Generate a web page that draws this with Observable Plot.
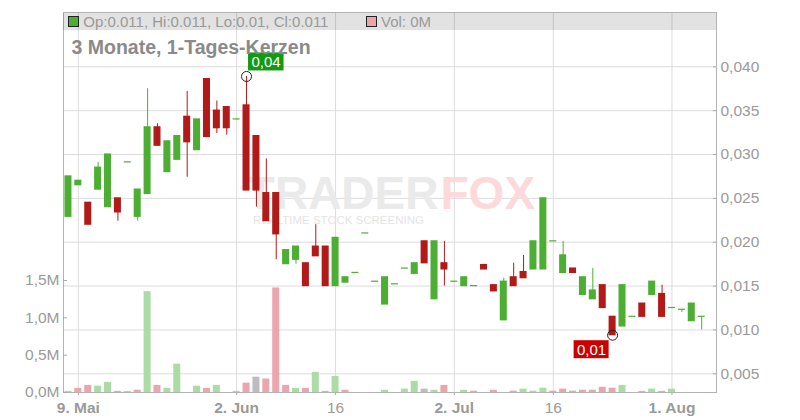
<!DOCTYPE html>
<html>
<head>
<meta charset="utf-8">
<script src="https://cdn.jsdelivr.net/npm/d3@7"></script>
<script src="https://cdn.jsdelivr.net/npm/@observablehq/plot@0.6"></script>
<style>
  html, body { margin: 0; padding: 0; background: #fff; }
  #wrap { position: relative; width: 800px; height: 420px; overflow: hidden; font-family: "Liberation Sans", Arial, sans-serif; }
  #wrap svg { position: absolute; left: 0; top: 0; }
  .band { position: absolute; left: 63px; top: 12.5px; width: 653px; height: 17.5px; background: rgba(0,0,0,0.115); }
  .sq { position: absolute; top: 16px; width: 9px; height: 9px; border: 1px solid #222; }
  .lg { position: absolute; top: 14px; font-size: 15px; line-height: 15px; color: #999; white-space: nowrap; }
  .title { position: absolute; left: 71.5px; top: 37.5px; font-size: 19.5px; line-height: 19.5px; font-weight: bold; color: #8a8a8a; white-space: nowrap; }
</style>
</head>
<body>
<div id="wrap"></div>
<script>
// ---------- data ----------
const days = [
  "2025-05-08","2025-05-09","2025-05-12","2025-05-13","2025-05-14","2025-05-15","2025-05-16",
  "2025-05-19","2025-05-20","2025-05-21","2025-05-22","2025-05-23","2025-05-26","2025-05-27",
  "2025-05-28","2025-05-29","2025-05-30","2025-06-02","2025-06-03","2025-06-04","2025-06-05",
  "2025-06-06","2025-06-09","2025-06-10","2025-06-11","2025-06-12","2025-06-13","2025-06-16",
  "2025-06-17","2025-06-18","2025-06-19","2025-06-20","2025-06-23","2025-06-24","2025-06-25",
  "2025-06-26","2025-06-27","2025-06-30","2025-07-01","2025-07-02","2025-07-03","2025-07-04",
  "2025-07-07","2025-07-08","2025-07-09","2025-07-10","2025-07-11","2025-07-14","2025-07-15",
  "2025-07-16","2025-07-17","2025-07-18","2025-07-21","2025-07-22","2025-07-23","2025-07-24",
  "2025-07-25","2025-07-28","2025-07-29","2025-07-30","2025-07-31","2025-08-01","2025-08-04",
  "2025-08-05","2025-08-06"
];
const open = [
  .0229,.0265,.0245,.0260,.0240,.0250,.0291,.0229,.0255,.0331,.0280,.0294,.0343,.0305,
  .0386,.0350,.0354,.0340,.0356,.0321,.0256,.0256,.0175,.0180,.0176,.0195,.0195,.0150,
  .0154,.0165,.0210,.0155,.0129,.0152,.0170,.0164,.0201,.0135,.0176,.0155,.0150,.0150,
  .0174,.0151,.0111,.0160,.0166,.0169,.0169,.0201,.0165,.0170,.0140,.0135,.0151,.0115,
  .0104,.0115,.0130,.0140,.0141,.0125,.0123,.0110,.0115
];
const high = [
  .0275,.0270,.0245,.0291,.0300,.0250,.0291,.0260,.0375,.0335,.0315,.0321,.0372,.0340,
  .0386,.0361,.0354,.0340,.0389,.0321,.0295,.0256,.0191,.0195,.0176,.0220,.0195,.0205,
  .0160,.0165,.0210,.0155,.0160,.0152,.0170,.0176,.0201,.0201,.0201,.0155,.0160,.0150,
  .0174,.0151,.0159,.0176,.0185,.0201,.0250,.0201,.0201,.0170,.0160,.0170,.0151,.0115,
  .0151,.0115,.0130,.0155,.0151,.0125,.0123,.0130,.0115
];
const low = [
  .0229,.0265,.0220,.0260,.0240,.0224,.0291,.0224,.0255,.0310,.0280,.0294,.0274,.0305,
  .0320,.0324,.0322,.0340,.0259,.0240,.0224,.0180,.0175,.0175,.0150,.0184,.0150,.0150,
  .0154,.0165,.0210,.0155,.0129,.0152,.0170,.0164,.0176,.0135,.0150,.0155,.0150,.0150,
  .0169,.0144,.0111,.0150,.0159,.0169,.0169,.0201,.0165,.0165,.0140,.0135,.0125,.0094,
  .0104,.0115,.0115,.0140,.0115,.0125,.0120,.0110,.0100
];
const close = [
  .0275,.0270,.0220,.0285,.0300,.0234,.0291,.0260,.0331,.0310,.0315,.0321,.0314,.0340,
  .0320,.0330,.0330,.0340,.0259,.0259,.0224,.0209,.0191,.0195,.0150,.0184,.0150,.0205,
  .0160,.0165,.0210,.0155,.0160,.0152,.0170,.0176,.0176,.0201,.0169,.0155,.0160,.0150,
  .0169,.0144,.0155,.0150,.0159,.0201,.0250,.0201,.0185,.0165,.0160,.0145,.0125,.0094,
  .0151,.0115,.0115,.0155,.0115,.0125,.0123,.0130,.0115
];
const volumeM = [
  0.015,0.055,0.095,0.085,0.135,0.015,0.015,0.03,1.35,0.095,
  0.055,0.38,0,0.085,0.055,0.095,0,0.015,0.125,0.205,
  0.18,1.40,0.095,0.055,0.055,0.27,0.015,0.215,0.03,0,
  0,0,0.03,0,0.045,0.15,0.045,0.03,0.095,0,
  0.03,0.018,0,0.03,0,0.018,0.045,0.018,0.058,0.018,
  0.045,0.018,0.03,0.03,0.07,0.058,0.095,0,0.015,0.045,
  0.015,0.045,0,0,0
];
const tickDays = ["2025-05-09","2025-06-02","2025-06-16","2025-07-02","2025-07-16","2025-08-01"];
const tickLabels = ["9. Mai","2. Jun","16","2. Jul","16","1. Aug"];
const priceTicks = [0.005,0.010,0.015,0.020,0.025,0.030,0.035,0.040];
const volumeTicks = [0,0.5,1.0,1.5];
const titleText = "3 Monate, 1-Tages-Kerzen";
const legendText = "Op:0.011, Hi:0.011, Lo:0.01, Cl:0.011";
const volLegendText = "Vol: 0M";

// ---------- styling ----------
const GREEN = "#4cae33", RED = "#b21a1a";
const VGREEN = "#abdca6", VRED = "#eda5ad", VGRAY = "#bdbdbd";
const GRID = "#dcdcdc";
const FONT = "'Liberation Sans', Arial, sans-serif";
const W = 800, H = 420, ML = 63, MR = 84, MT = 12, MB = 28;
const HALF = 0.355;

const candles = days.map((d, i) => ({
  i, day: d, open: open[i], high: high[i], low: low[i], close: close[i], vol: volumeM[i],
  up: close[i] >= open[i],
  vdir: i === 0 ? (close[i] >= open[i] ? 1 : -1) : Math.sign(Math.round((close[i] - close[i-1]) * 1e5))
}));
const tickIdx = tickDays.map(d => days.indexOf(d));
const labelOf = new Map(tickIdx.map((t, k) => [t, tickLabels[k]]));
const boldTicks = tickIdx.filter(t => labelOf.get(t).includes("."));
const plainTicks = tickIdx.filter(t => !labelOf.get(t).includes("."));

const hiC = candles.reduce((a, b) => b.high > a.high ? b : a);
const loC = candles.reduce((a, b) => b.low < a.low ? b : a);
const fmt2 = v => v.toFixed(2).replace(".", ",");

const xDomain = [-0.5, days.length + 0.5];
const yPriceDomain = [0.002868, 0.046191];
const yVolDomain = [0, 5.089];

const wrap = document.getElementById("wrap");

// ---------- price chart (back layer) ----------
const priceSvg = Plot.plot({
  width: W, height: H,
  marginLeft: ML, marginRight: MR, marginTop: MT, marginBottom: MB,
  style: {background: "transparent", fontFamily: FONT, fontSize: "15.5px", color: "#9a9a9a", overflow: "visible"},
  x: {domain: xDomain, label: null},
  y: {domain: yPriceDomain, label: null},
  marks: [
    Plot.gridY(priceTicks, {stroke: GRID, strokeOpacity: 1}),
    Plot.gridX(tickIdx, {stroke: GRID, strokeOpacity: 1}),
    Plot.text(["TRADER"], {text: d => d, frameAnchor: "middle", textAnchor: "end", dx: 48.5, dy: -8, fontSize: 46, fontWeight: "bold", fill: "#eaeaea"}),
    Plot.text(["FOX"], {text: d => d, frameAnchor: "middle", textAnchor: "start", dx: 50.5, dy: -8, fontSize: 46, fontWeight: "bold", fill: "#fdd9dc"}),
    Plot.text(["REALTIME STOCK SCREENING"], {text: d => d, frameAnchor: "middle", dx: -51.5, dy: 18, fontSize: 11.5, fill: "#e4e4e4"}),
    Plot.axisY(priceTicks, {anchor: "right", tickSize: -4, tickPadding: 8, tickFormat: d => d.toFixed(3).replace(".", ","), label: null, stroke: "#aaa", fill: "#9a9a9a"}),
    Plot.axisX(boldTicks, {anchor: "bottom", tickSize: 3, tickPadding: 6.5, tickFormat: t => labelOf.get(t), fontWeight: "bold", label: null, stroke: "#aaa", fill: "#9a9a9a"}),
    Plot.axisX(plainTicks, {anchor: "bottom", tickSize: 3, tickPadding: 6.5, tickFormat: t => labelOf.get(t), label: null, stroke: "#aaa", fill: "#9a9a9a"}),
    Plot.ruleX(candles.filter(d => d.up), {x: "i", y1: "low", y2: "high", stroke: GREEN, strokeWidth: 1}),
    Plot.ruleX(candles.filter(d => !d.up), {x: "i", y1: "low", y2: "high", stroke: RED, strokeWidth: 1}),
    Plot.rect(candles.filter(d => d.up), {x1: d => d.i - HALF, x2: d => d.i + HALF, y1: "open", y2: "close", fill: GREEN, insetTop: -0.6, insetBottom: -0.6}),
    Plot.rect(candles.filter(d => !d.up), {x1: d => d.i - HALF, x2: d => d.i + HALF, y1: "open", y2: "close", fill: RED, insetTop: -0.6, insetBottom: -0.6}),
    Plot.frame({stroke: "#b3b3b3"}),
    // high annotation
    Plot.rect([hiC], {x1: "i", x2: "i", y1: "high", y2: "high", insetLeft: 2, insetRight: -37.5, insetTop: -23.5, insetBottom: 5.5, fill: "#129a12"}),
    Plot.text([hiC], {x: "i", y: "high", text: d => fmt2(d.high), dx: 19.5, dy: -14.5, fill: "white", fontSize: 15}),
    Plot.dot([hiC], {x: "i", y: "high", r: 5, stroke: "#222", fill: "none", strokeWidth: 1}),
    // low annotation
    Plot.rect([loC], {x1: "i", x2: "i", y1: "low", y2: "low", insetLeft: -38.5, insetRight: 3.5, insetTop: 5.5, insetBottom: -23.5, fill: "#cc0000"}),
    Plot.text([loC], {x: "i", y: "low", text: d => fmt2(d.low), dx: -21, dy: 14.5, fill: "white", fontSize: 15}),
    Plot.dot([loC], {x: "i", y: "low", r: 5, stroke: "#222", fill: "none", strokeWidth: 1})
  ]
});

// ---------- volume chart (front layer) ----------
const volData = candles.filter(d => d.vol > 0);
const volSvg = Plot.plot({
  width: W, height: H,
  marginLeft: ML, marginRight: MR, marginTop: MT, marginBottom: MB,
  style: {background: "transparent", fontFamily: FONT, fontSize: "15.5px", color: "#9a9a9a", overflow: "visible", pointerEvents: "none"},
  x: {domain: xDomain, axis: null},
  y: {domain: yVolDomain, label: null},
  marks: [
    Plot.rect(volData.filter(d => d.vdir > 0), {x1: d => d.i - HALF, x2: d => d.i + HALF, y1: 0, y2: "vol", fill: VGREEN}),
    Plot.rect(volData.filter(d => d.vdir < 0), {x1: d => d.i - HALF, x2: d => d.i + HALF, y1: 0, y2: "vol", fill: VRED}),
    Plot.rect(volData.filter(d => d.vdir === 0), {x1: d => d.i - HALF, x2: d => d.i + HALF, y1: 0, y2: "vol", fill: VGRAY}),
    Plot.axisY(volumeTicks, {anchor: "left", tickSize: -4, tickPadding: 8, tickFormat: d => d.toFixed(1).replace(".", ",") + "M", label: null, stroke: "#aaa", fill: "#9a9a9a"})
  ]
});

wrap.appendChild(priceSvg);
wrap.appendChild(volSvg);

// ---------- header (legend band + title) ----------
const band = document.createElement("div"); band.className = "band"; wrap.appendChild(band);
const sq1 = document.createElement("div"); sq1.className = "sq"; sq1.style.left = "68px"; sq1.style.background = GREEN; wrap.appendChild(sq1);
const lg1 = document.createElement("div"); lg1.className = "lg"; lg1.style.left = "83.3px"; lg1.textContent = legendText; wrap.appendChild(lg1);
const sq2 = document.createElement("div"); sq2.className = "sq"; sq2.style.left = "366px"; sq2.style.background = VRED; wrap.appendChild(sq2);
const lg2 = document.createElement("div"); lg2.className = "lg"; lg2.style.left = "381px"; lg2.textContent = volLegendText; wrap.appendChild(lg2);
const ttl = document.createElement("div"); ttl.className = "title"; ttl.textContent = titleText; wrap.appendChild(ttl);
</script>
</body>
</html>
